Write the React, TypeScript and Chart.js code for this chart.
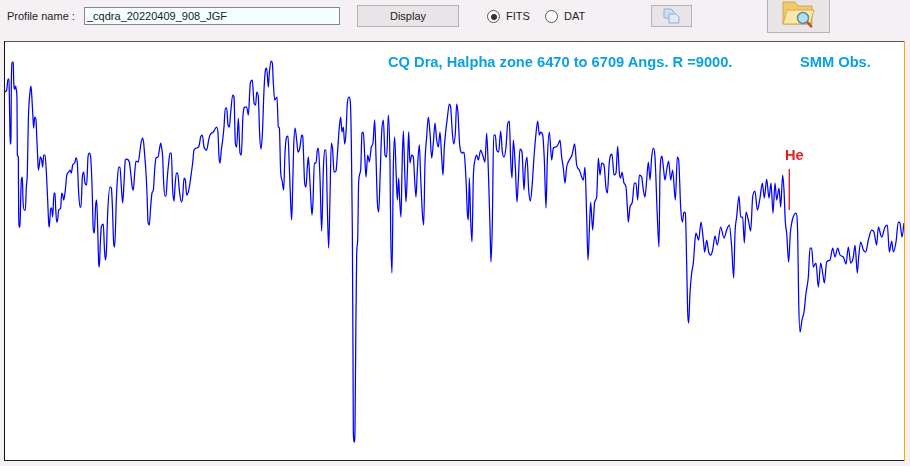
import React, { useEffect, useRef } from "react";
import { Chart, registerables } from "chart.js";

Chart.register(...registerables);

// Sub-channel number (relative to the start of each stretch), relative intensity
const spectrumA: [number, number][] = [
  [14,369],[20,371],[24,382],[27,382],[28,365],[30,326],[31,317],[33,326],[34,378],[37,399],[40,399],[41,381],[44,372],[47,375],[49,371],[51,361],[52,306],[55,304],
  [56,248],[58,234],[60,234],[62,261],[64,281],[67,284],[69,261],[73,251],[76,251],[79,274],[82,288],[85,341],[90,369],[93,375],[96,361],[99,343],[101,333],[104,344],[108,341],[110,326],[113,304],[115,291],[118,296],[121,304],[125,301],[128,294],[131,306],[135,306],[139,289],[143,261],[146,238],[148,234],[152,253],[155,253],[158,244],[162,268],[165,268],[167,253],[170,239],[173,241],[176,251],[182,253],[185,268],[188,266],[191,261],[196,271],[200,285],[206,289],[210,291],[214,288],[218,296],[224,298],[228,303],[232,298],[236,268],[240,254],[243,254],[247,284],[251,289],[255,278],[260,276],[264,304],[268,308],[272,304],[276,276],[280,231],[283,228],[287,256],[290,261],[293,234],[296,198],[298,194],[301,218],[304,234],[310,237],[313,214],[316,201],[319,208],[323,248],[330,274],[334,273],[337,256],[341,218],[344,214],[349,261],[352,281],[356,294],[360,294],[364,274],[368,258],[372,278],[376,301],[380,302],[388,299],[392,288],[397,273],[400,271],[404,288],[408,300],[415,299],[419,308],[423,318],[428,323],[431,318],[434,306],[438,288],[441,268],[444,239],[448,236],[452,254],[456,268],[460,271],[464,291],[468,303],[474,304],[478,311],[482,318],[485,313],[488,304],[491,278],[495,265],[498,265],[502,284],[506,298],[510,308],[514,308],[518,271],[522,260],[525,274],[529,288],[533,288],[538,271],[544,259],[548,264],[552,283],[556,281],[560,266],[565,269],[570,278],[574,288],[578,298],[582,311],[590,313],[597,315],[602,324],[607,326],[612,314],[620,311],[626,321],[630,326],[640,329],[650,334],[654,328],[657,304],[660,298],[664,311],[668,321],[672,334],[676,353],[680,353],[684,336],[688,334],[692,348],[698,366],[702,364],[706,318],[710,314],[715,343],[720,308],[724,306],[729,346],[735,354],[740,354],[745,346],[751,378],[757,381],[762,358],[767,356],[770,369],[775,364],[779,326],[783,312],[787,326],[792,371],[797,392],[800,393],[805,374],[808,388],[813,400],[817,398],[820,378],[824,361],[831,364],[835,334],[838,333],[842,289],[846,281],[851,271],[855,308],[860,324],[864,325],[868,294],[872,258],[875,241],[878,274],[881,314],[885,333],[890,321],[894,309],
];
const spectrumB: [number, number][] = [
  [0,314],[5,326],[8,325],[14,278],[18,274],[22,294],[25,304],[29,284],[33,259],[36,246],[39,259],[43,298],[48,298],[52,311],[55,313],[60,283],[65,230],[70,291],[74,311],[78,311],[82,254],[86,213],[90,264],[94,318],[98,311],[102,289],[108,290],[112,306],[118,334],[122,344],[126,329],[130,334],[134,317],[138,328],[142,358],[147,364],[151,359],[154,318],[157,231],[159,109],[160,29],[163,19],[165,34],[167,111],[170,206],[173,221],[176,279],[182,291],[186,328],[190,329],[194,306],[198,284],[203,306],[208,299],[214,314],[219,318],[224,341],[228,304],[232,259],[236,249],[240,281],[245,329],[250,341],[255,306],[260,304],[265,346],[270,298],[272,231],[276,188],[280,294],[284,324],[288,291],[292,261],[296,283],[299,261],[303,244],[306,291],[310,330],[314,291],[318,259],[322,288],[326,329],[330,298],[335,306],[340,304],[344,281],[348,264],[352,291],[358,316],[362,284],[367,248],[371,236],[375,298],[380,324],[385,344],[390,328],[395,303],[400,318],[405,338],[410,321],[415,314],[420,329],[425,304],[429,286],[433,314],[437,329],[442,343],[448,357],[452,354],[457,328],[461,317],[466,328],[470,357],[474,348],[479,316],[487,308],[492,309],[496,294],[499,274],[502,248],[505,241],[508,283],[512,241],[516,219],[520,284],[525,301],[530,306],[535,301],[542,311],[548,306],[555,299],[560,328],[565,291],[570,234],[573,199],[577,238],[581,326],[586,326],[590,311],[596,309],[602,330],[607,309],[612,304],[618,314],[623,337],[628,340],[632,301],[636,283],[640,321],[646,294],[651,259],[655,281],[660,312],[666,309],[672,271],[676,294],[681,304],[686,271],[691,260],[696,274],[702,304],[707,324],[713,340],[718,326],[722,329],[728,326],[733,301],[738,253],[742,301],[748,329],[755,301],[760,313],[768,314],[775,317],[780,321],[785,304],[790,293],[795,278],[800,294],[808,301],[816,306],[824,317],[830,296],[838,291],[845,284],[850,281],[855,294],[860,244],[864,201],[868,231],[872,259],[878,231],[884,259],[890,264],[895,303],
];
const spectrumC: [number, number][] = [
  [0,286],[5,298],[12,296],[18,273],[22,268],[28,299],[36,307],[42,286],[48,288],[53,315],[58,288],[62,283],[66,289],[72,278],[78,274],[82,254],[85,239],[90,254],[97,259],[103,278],[108,278],[113,261],[118,286],[125,284],[130,271],[135,264],[140,281],[145,299],[150,281],[155,304],[160,313],[165,304],[172,244],[177,214],[180,288],[186,305],[190,294],[195,281],[200,291],[206,300],[212,281],[218,291],[226,261],[232,304],[236,301],[242,254],[247,239],[252,249],[256,248],[260,198],[263,149],[266,138],[270,168],[275,188],[280,198],[285,221],[288,228],[296,221],[303,239],[310,221],[314,209],[320,221],[326,209],[332,206],[338,211],[345,225],[352,216],[362,234],[372,223],[380,231],[388,236],[395,214],[401,183],[405,228],[410,244],[417,265],[422,244],[428,244],[433,218],[438,249],[445,241],[452,230],[458,264],[465,270],[472,251],[480,263],[487,278],[493,263],[500,282],[507,263],[513,278],[519,248],[525,278],[530,261],[537,273],[542,254],[548,286],[552,271],[556,239],[560,228],[566,199],[571,228],[577,241],[588,248],[593,228],[596,161],[600,129],[606,141],[612,149],[618,168],[625,184],[630,213],[635,213],[640,194],[648,198],[655,174],[662,198],[668,188],[673,178],[680,199],[690,201],[698,213],[705,204],[713,213],[720,206],[730,204],[738,197],[745,214],[752,198],[760,204],[765,216],[772,188],[776,204],[782,219],[790,211],[797,209],[805,221],[815,231],[822,229],[830,216],[835,234],[845,224],[855,234],[862,236],[868,209],[875,220],[880,209],[888,219],[895,239],[900,238],[906,224],[912,238],
];
const stretchStarts = [0, 900, 1800];
const heMarkerChannel = [2368, 2368];
const heMarkerFlux = [292, 251];

const titleText = "CQ Dra, Halpha zone 6470 to 6709 Angs. R =9000.";
const observatoryText = "SMM Obs.";
const lineLabel = "He";
const profileLabel = "Profile name :";
const profileValue = "_cqdra_20220409_908_JGF";
const displayLabel = "Display";
const radioLabels = ["FITS", "DAT"];

const uiFont = "'Liberation Sans', Arial, sans-serif";

const abs = (left: number, top: number, width: number, height: number): React.CSSProperties => ({
  position: "absolute",
  left,
  top,
  width,
  height,
  boxSizing: "border-box",
});

const buttonStyle: React.CSSProperties = {
  background: "#e8e4e8",
  border: "1px solid #b4b4b4",
};

const bannerStyle: React.CSSProperties = {
  fontWeight: 700,
  fontSize: 14.67,
  lineHeight: "17px",
  whiteSpace: "nowrap",
};

function Radio({ left, checked }: { left: number; checked: boolean }) {
  return (
    <div
      style={{
        ...abs(left, 10, 13, 13),
        borderRadius: "50%",
        border: "1px solid #555",
        background: "#fff",
      }}
    >
      {checked && (
        <div style={{ ...abs(2.5, 2.5, 6, 6), borderRadius: "50%", background: "#333" }} />
      )}
    </div>
  );
}

export default function App() {
  const ref = useRef<HTMLCanvasElement>(null);

  useEffect(() => {
    const body = document.body;
    body.style.margin = "0";
    body.style.background = "#f4f0f4";
    const points = [spectrumA, spectrumB, spectrumC].flatMap((part, i) =>
      part.map(([c, f]) => ({ x: c + stretchStarts[i], y: f }))
    );
    const chart = new Chart(ref.current!, {
      type: "line",
      data: {
        datasets: [
          {
            data: points,
            borderColor: "#0000ff",
            borderWidth: 1.25,
            pointRadius: 0,
            cubicInterpolationMode: "monotone",
          },
          {
            data: heMarkerChannel.map((c, i) => ({ x: c, y: heMarkerFlux[i] })),
            borderColor: "#e02030",
            borderWidth: 1,
            pointRadius: 0,
          },
        ],
      },
      options: {
        animation: false,
        responsive: false,
        parsing: false,
        normalized: true,
        layout: { padding: 0 },
        plugins: { legend: { display: false }, tooltip: { enabled: false } },
        scales: {
          x: { type: "linear", min: 0, max: 2715, display: false },
          y: { type: "linear", min: 0, max: 420, display: false },
        },
      },
    });
    return () => chart.destroy();
  }, []);

  return (
    <div style={{ ...abs(0, 0, 910, 466), background: "#f4f0f4", overflow: "hidden", fontFamily: uiFont, fontSize: 11, color: "#222" }}>
      <div style={{ ...abs(7, 10, 70, 13), lineHeight: "13px", whiteSpace: "nowrap" }}>{profileLabel}</div>
      <div
        style={{
          ...abs(84, 7, 256, 18),
          background: "#f2fffe",
          border: "1px solid #888",
          paddingLeft: 2,
          lineHeight: "16px",
          whiteSpace: "nowrap",
        }}
      >
        {profileValue}
      </div>
      <div style={{ ...abs(357, 5, 102, 22), ...buttonStyle, textAlign: "center", lineHeight: "20px" }}>{displayLabel}</div>
      <Radio left={487} checked />
      <div style={{ ...abs(506, 10, 30, 13), lineHeight: "13px" }}>{radioLabels[0]}</div>
      <Radio left={545} checked={false} />
      <div style={{ ...abs(564, 10, 30, 13), lineHeight: "13px" }}>{radioLabels[1]}</div>
      <div style={{ ...abs(651, 5, 41, 22), ...buttonStyle }}>
        <svg width="39" height="20" style={{ display: "block" }}>
          <path d="M12 3h7l3 3v6h-10z" fill="#c9def0" stroke="#8fb0d0" />
          <path d="M17 8h7l3 3v6h-10z" fill="#dcebf7" stroke="#8fb0d0" />
        </svg>
      </div>
      <div style={{ ...abs(767, -2, 63, 35), ...buttonStyle }}>
        <svg width="61" height="33" style={{ display: "block" }}>
          <path d="M15 3h12l3 4h14v18h-29z" fill="#f2c96c" stroke="#d2a850" />
          <path d="M15 25l4-14h27l-4 14z" fill="#fbe7a6" stroke="#d2a850" />
          <circle cx="35" cy="19" r="5.5" fill="#b4def2" stroke="#5f8ba6" strokeWidth="1.5" />
          <path d="M39 23l5 5" stroke="#c05818" strokeWidth="2.5" />
        </svg>
      </div>

      <div style={{ ...abs(4, 41, 901, 420), background: "#ffffff" }} />
      <div style={{ ...abs(0, 41, 905, 420) }}>
        <canvas ref={ref} width={905} height={420} style={{ display: "block", width: 905, height: 420 }} />
      </div>
      <div style={{ ...abs(4, 41, 900, 1), background: "#555" }} />
      <div style={{ ...abs(4, 41, 1, 420), background: "#111" }} />
      <div style={{ ...abs(4, 460, 901, 1), background: "#222" }} />
      <div style={{ ...abs(904, 41, 1, 420), background: "#ffa500" }} />

      <div style={{ ...abs(388, 54, 360, 17), ...bannerStyle, color: "#0ba0e0" }}>{titleText}</div>
      <div style={{ ...abs(800, 54, 90, 17), ...bannerStyle, color: "#0ba0e0" }}>{observatoryText}</div>
      <div style={{ ...abs(785, 147, 30, 17), ...bannerStyle, color: "#ed1c24" }}>{lineLabel}</div>
    </div>
  );
}
